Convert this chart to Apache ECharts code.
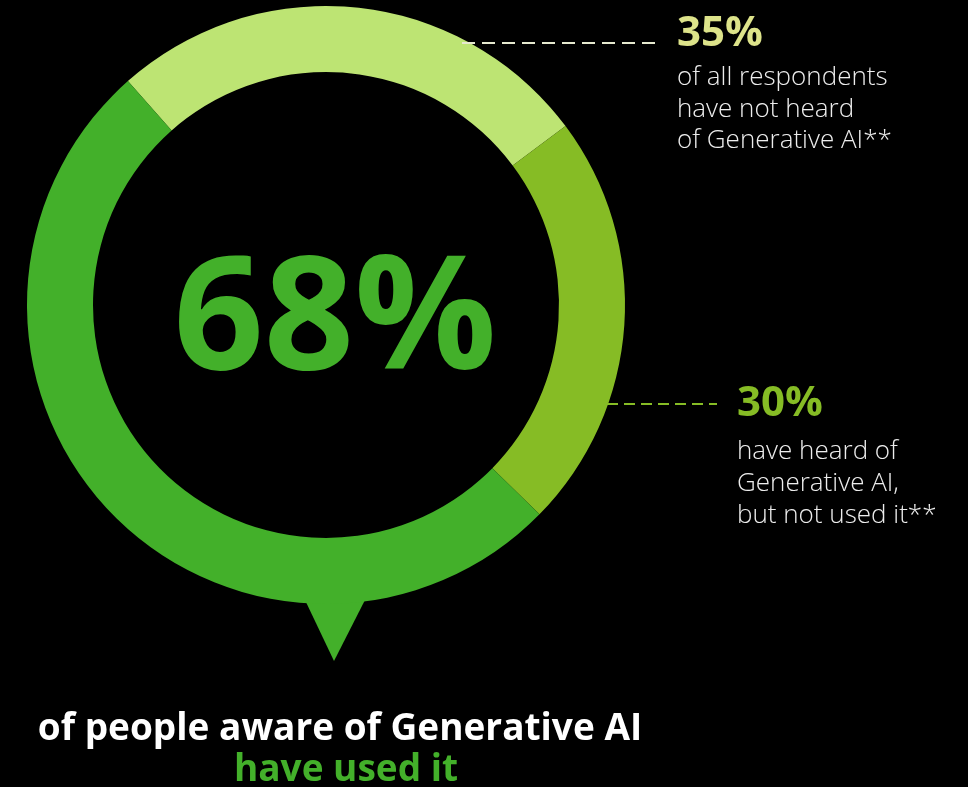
<!DOCTYPE html>
<html>
<head>
<meta charset="utf-8">
<title>Generative AI awareness</title>
<script src="https://cdn.jsdelivr.net/npm/echarts@6/dist/echarts.min.js"></script>
<style>
  html, body { margin: 0; padding: 0; background: #000; }
  #chart { width: 968px; height: 787px; }
</style>
</head>
<body>
<div id="chart"></div>
<script>
// Ring segments: respondents who have not heard of GenAI, heard but not used, used
const segmentNames = ['Have not heard of Generative AI', 'Heard of Generative AI, not used it', 'Aware and have used it'];
const segmentValues = [35, 30, 68];
const segmentColors = ['#bde473', '#86bc25', '#43b02a'];

// Callout texts
const notHeardLines = ['of all respondents', 'have not heard', 'of Generative AI**'];
const notUsedLines = ['have heard of', 'Generative AI,', 'but not used it**'];
const footerLine1 = 'of people aware of Generative AI';
const footerLine2 = 'have used it';

const FONT = '"Open Sans", "Liberation Sans", sans-serif';
const cx = 326, cy = 305, rIn = 233, rOut = 299;

// place text by its baseline (canvas "middle" sits ~0.285em above the baseline)
function midFromBaseline(baseline, size) { return baseline - 0.285 * size; }

const chart = echarts.init(document.getElementById('chart'), null, { renderer: 'canvas' });

const option = {
  backgroundColor: '#000000',
  animation: false,
  series: [{
    type: 'pie',
    center: [cx, cy],
    radius: [rIn, rOut],
    startAngle: 131.5,
    clockwise: true,
    silent: true,
    label: { show: false },
    labelLine: { show: false },
    emphasis: { disabled: true },
    itemStyle: { borderWidth: 0 },
    data: segmentValues.map((v, i) => ({
      name: segmentNames[i],
      value: v,
      itemStyle: { color: segmentColors[i] }
    }))
  }],
  graphic: [
    // speech-bubble pointer under the ring
    {
      type: 'polygon', z: 1,
      shape: { points: [[cx - 21, cy + rOut - 4], [cx + 39, cy + rOut - 4], [cx + 8, cy + 356]] },
      style: { fill: segmentColors[2] }
    },
    // centre figure
    {
      type: 'text', z: 10,
      style: {
        text: segmentValues[2] + '%',
        x: 335, y: midFromBaseline(369, 158),
        align: 'center', verticalAlign: 'middle',
        font: 'bold 158px ' + FONT,
        fill: segmentColors[2]
      }
    },
    // leader line to the "not heard" callout
    {
      type: 'line', z: 5,
      shape: { x1: 462, y1: 43, x2: 655, y2: 43 },
      style: { stroke: '#e6e9cf', lineWidth: 2, lineDash: [13, 7] }
    },
    {
      type: 'text', z: 10,
      style: {
        text: segmentValues[0] + '%',
        x: 677, y: midFromBaseline(46, 42),
        align: 'left', verticalAlign: 'middle',
        font: 'bold 42px ' + FONT,
        fill: '#dde38a'
      }
    },
    {
      type: 'text', z: 10,
      style: {
        text: notHeardLines.join('\n'),
        x: 677, y: 62,
        align: 'left', verticalAlign: 'top',
        font: '300 26px ' + FONT,
        lineHeight: 31.5,
        fill: '#ededed'
      }
    },
    // leader line to the "heard, not used" callout
    {
      type: 'line', z: 5,
      shape: { x1: 607, y1: 404, x2: 717, y2: 404 },
      style: { stroke: segmentColors[1], lineWidth: 2, lineDash: [11, 6] }
    },
    {
      type: 'text', z: 10,
      style: {
        text: segmentValues[1] + '%',
        x: 737, y: midFromBaseline(416, 42),
        align: 'left', verticalAlign: 'middle',
        font: 'bold 42px ' + FONT,
        fill: segmentColors[1]
      }
    },
    {
      type: 'text', z: 10,
      style: {
        text: notUsedLines.join('\n'),
        x: 737, y: 436,
        align: 'left', verticalAlign: 'top',
        font: '300 26px ' + FONT,
        lineHeight: 32,
        fill: '#ededed'
      }
    },
    // footer
    {
      type: 'text', z: 10,
      style: {
        text: footerLine1,
        x: 340, y: midFromBaseline(740, 37),
        align: 'center', verticalAlign: 'middle',
        font: 'bold 37px ' + FONT,
        fill: '#ffffff'
      }
    },
    {
      type: 'text', z: 10,
      style: {
        text: footerLine2,
        x: 346, y: midFromBaseline(781, 37),
        align: 'center', verticalAlign: 'middle',
        font: 'bold 37px ' + FONT,
        fill: segmentColors[2]
      }
    }
  ]
};

chart.setOption(option);
</script>
</body>
</html>
